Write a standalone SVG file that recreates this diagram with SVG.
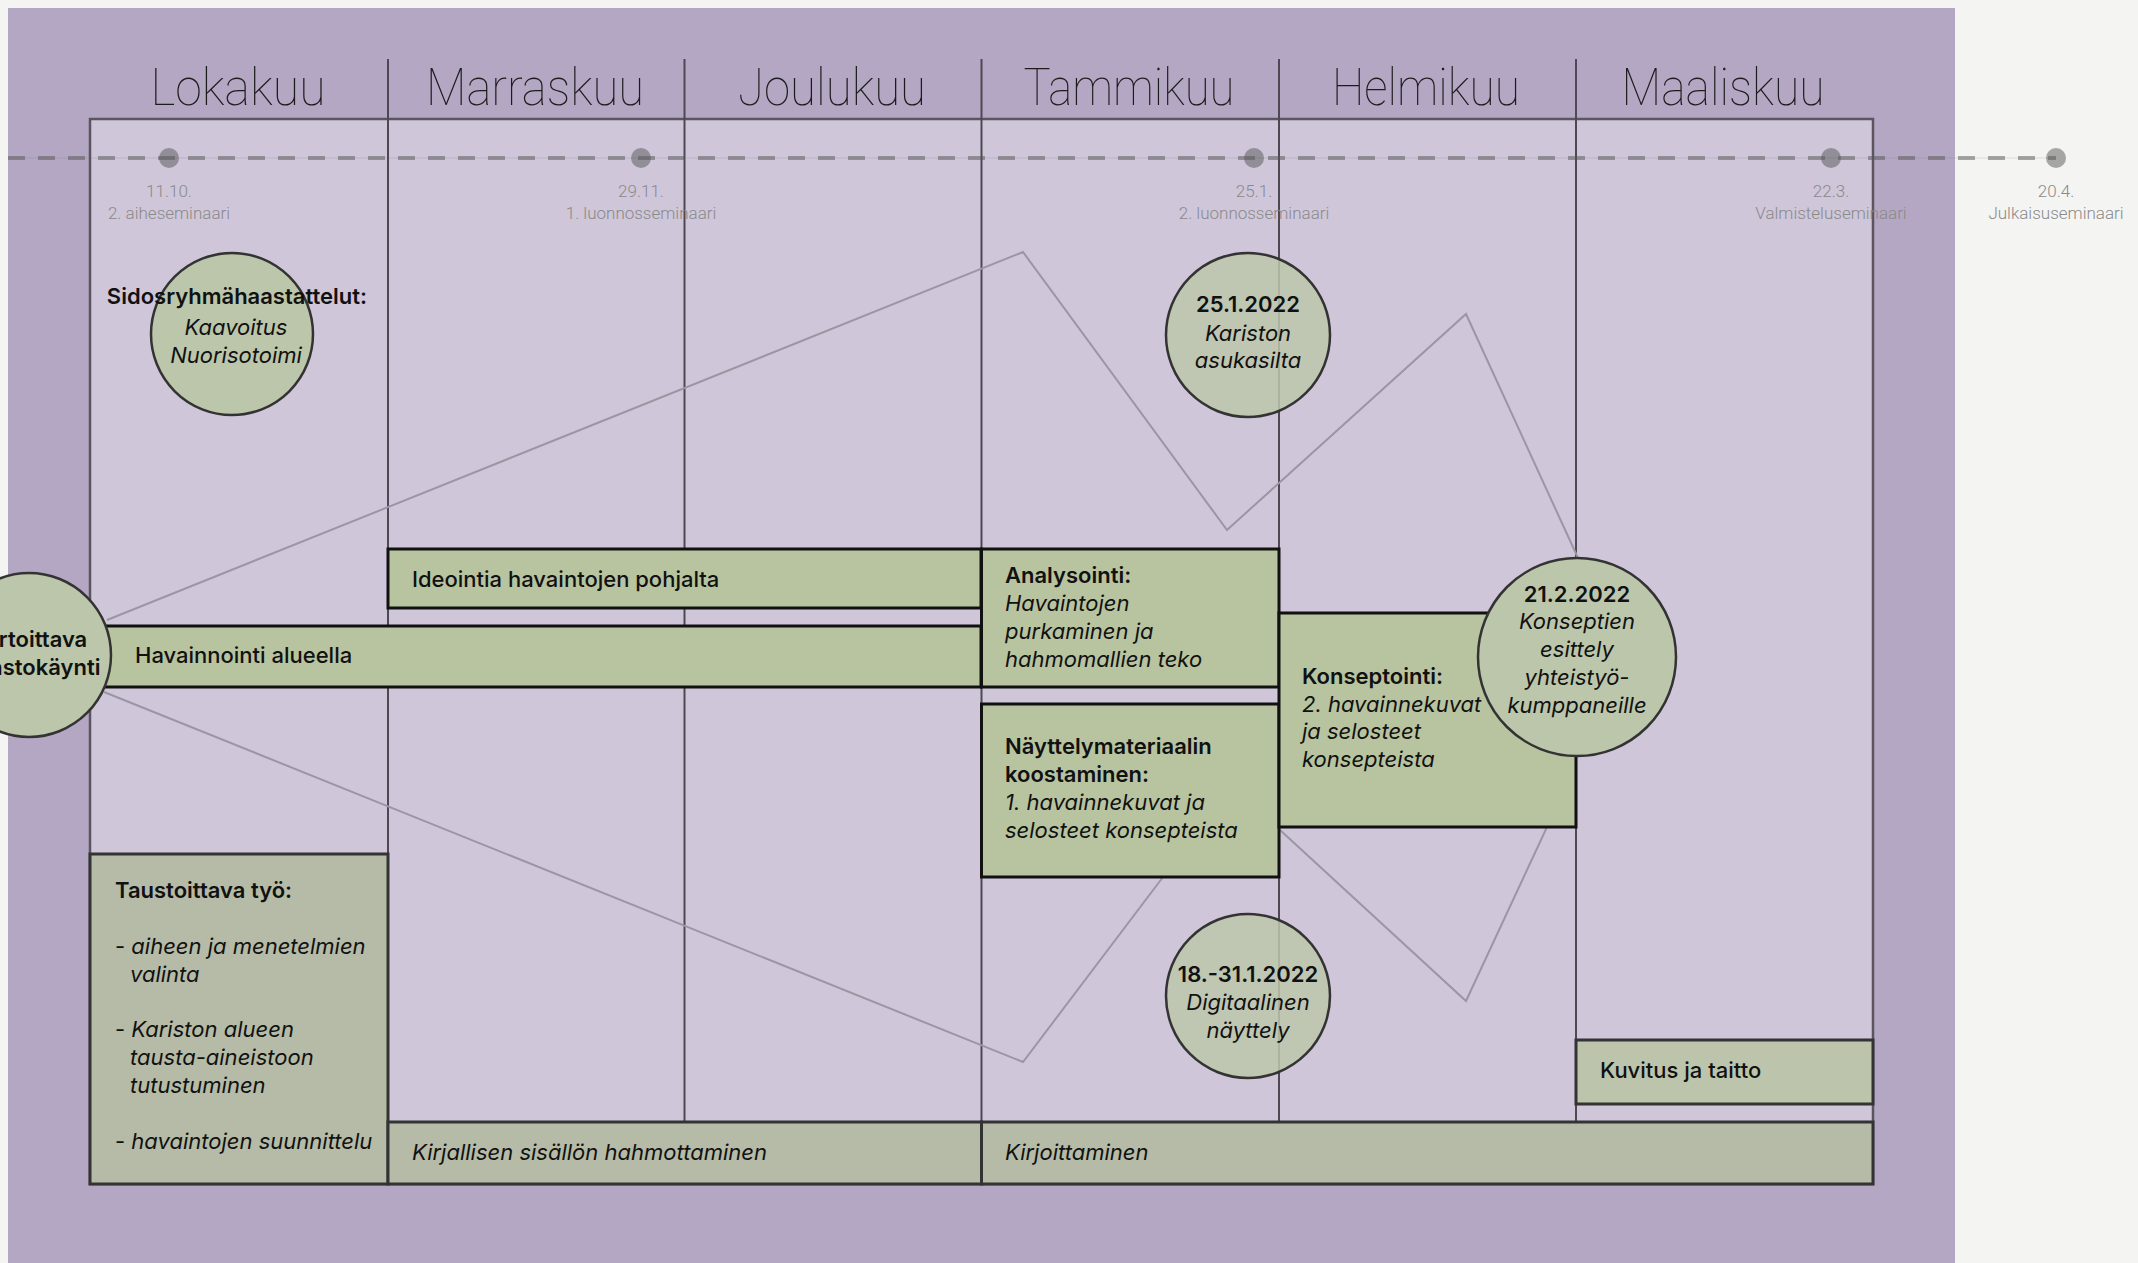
<svg xmlns="http://www.w3.org/2000/svg" width="2138" height="1263" viewBox="0 0 2138 1263">
<style>
.month{font-family:Roboto,"Liberation Sans",sans-serif;font-weight:100;font-size:52px;fill:#1c1c1c;text-anchor:middle}
.dl{font-family:Roboto,"Liberation Sans",sans-serif;font-weight:300;font-size:17px;fill:#8a8a8a;text-anchor:middle}
.t{font-family:Inter,"Noto Sans","Liberation Sans",sans-serif;font-size:22px;fill:#111}
.b{font-weight:600}
.m{font-weight:500}
.i{font-style:italic;font-weight:400}
.c{text-anchor:middle}
.div{stroke:#4d4852;stroke-width:2}
.box{fill:#b8c4a0;stroke:#111;stroke-width:3}
.gbox{fill:#b5bba6;stroke:#333;stroke-width:3}
.kbox{fill:#bcc5ab;stroke:#333;stroke-width:3}
.circ{fill:#bcc6aa;stroke:#333;stroke-width:2.5}
.circt{fill:#bcc6aa;fill-opacity:0.85;stroke:#333;stroke-width:2.5}
.con{fill:none;stroke:#9c96a3;stroke-width:2}
.dot{fill:#555;fill-opacity:0.5}
</style>
<rect x="0" y="0" width="2138" height="1263" fill="#f4f4f2"/>
<rect x="8" y="8" width="1947" height="1255" fill="#b4a7c4"/>
<rect id="panel" x="90" y="119" width="1783" height="1065" fill="#cfc6da" stroke="#5b5560" stroke-width="2.5"/>
<g id="dividers">
<line class="div" x1="388" y1="59" x2="388" y2="1122"/>
<line class="div" x1="684.5" y1="59" x2="684.5" y2="1122"/>
<line class="div" x1="981.5" y1="59" x2="981.5" y2="1122"/>
<line class="div" x1="1279" y1="59" x2="1279" y2="1122"/>
<line class="div" x1="1576" y1="59" x2="1576" y2="1122"/>
</g>
<g id="months">
<text class="month" x="238" y="105" textLength="175" lengthAdjust="spacingAndGlyphs">Lokakuu</text>
<text class="month" x="535" y="105" textLength="218" lengthAdjust="spacingAndGlyphs">Marraskuu</text>
<text class="month" x="832" y="105" textLength="188" lengthAdjust="spacingAndGlyphs">Joulukuu</text>
<text class="month" x="1129" y="105" textLength="211" lengthAdjust="spacingAndGlyphs">Tammikuu</text>
<text class="month" x="1426" y="105" textLength="188" lengthAdjust="spacingAndGlyphs">Helmikuu</text>
<text class="month" x="1723" y="105" textLength="203" lengthAdjust="spacingAndGlyphs">Maaliskuu</text>
</g>
<g id="timeline">
<line x1="8" y1="158" x2="2056" y2="158" stroke="#555" stroke-opacity="0.15" stroke-width="1"/>
<line x1="8" y1="158" x2="2056" y2="158" stroke="#555" stroke-opacity="0.5" stroke-width="4" stroke-dasharray="17 13"/>
<circle class="dot" cx="169" cy="158" r="10"/>
<circle class="dot" cx="641" cy="158" r="10"/>
<circle class="dot" cx="1254" cy="158" r="10"/>
<circle class="dot" cx="1831" cy="158" r="10"/>
<circle class="dot" cx="2056" cy="158" r="10"/>
<text class="dl" x="169" y="197">11.10.</text>
<text class="dl" x="169" y="219">2. aiheseminaari</text>
<text class="dl" x="641" y="197">29.11.</text>
<text class="dl" x="641" y="219">1. luonnosseminaari</text>
<text class="dl" x="1254" y="197">25.1.</text>
<text class="dl" x="1254" y="219">2. luonnosseminaari</text>
<text class="dl" x="1831" y="197">22.3.</text>
<text class="dl" x="1831" y="219">Valmisteluseminaari</text>
<text class="dl" x="2056" y="197">20.4.</text>
<text class="dl" x="2056" y="219">Julkaisuseminaari</text>
</g>
<g id="connectors">
<polyline class="con" points="107,620 1023,252 1227,530 1466,314 1578,558"/>
<polyline class="con" points="104,692 1023,1062 1163,877"/>
<polyline class="con" points="1280,830 1466,1001 1547,827"/>
</g>
<g id="ideointia">
<rect class="box" x="388" y="549" width="593" height="59"/>
<text class="t m" x="412" y="587">Ideointia havaintojen pohjalta</text>
</g>
<g id="havainnointi">
<rect class="box" x="90" y="626" width="891" height="61"/>
<text class="t m" x="135" y="663">Havainnointi alueella</text>
</g>
<g id="analysointi">
<rect class="box" x="981.5" y="549" width="297.5" height="138"/>
<text class="t b" x="1005" y="583">Analysointi:</text>
<text class="t i" x="1005" y="611">Havaintojen</text>
<text class="t i" x="1005" y="639">purkaminen ja</text>
<text class="t i" x="1005" y="667">hahmomallien teko</text>
</g>
<g id="nayttelymateriaali">
<rect class="box" x="981.5" y="704" width="297.5" height="173"/>
<text class="t b" x="1005" y="754">Näyttelymateriaalin</text>
<text class="t b" x="1005" y="782">koostaminen:</text>
<text class="t i" x="1005" y="810">1. havainnekuvat ja</text>
<text class="t i" x="1005" y="838">selosteet konsepteista</text>
</g>
<g id="konseptointi">
<rect class="box" x="1279" y="613" width="297" height="214"/>
<text class="t b" x="1302" y="684">Konseptointi:</text>
<text class="t i" x="1302" y="712">2. havainnekuvat</text>
<text class="t i" x="1302" y="739">ja selosteet</text>
<text class="t i" x="1302" y="767">konsepteista</text>
</g>
<g id="taustoittava">
<rect class="gbox" x="90" y="854" width="298" height="330"/>
<text class="t b" x="115" y="898">Taustoittava työ:</text>
<text class="t i" x="115" y="954"><tspan font-style="normal">- </tspan>aiheen ja menetelmien</text>
<text class="t i" x="130" y="982">valinta</text>
<text class="t i" x="115" y="1037"><tspan font-style="normal">- </tspan>Kariston alueen</text>
<text class="t i" x="130" y="1065">tausta-aineistoon</text>
<text class="t i" x="130" y="1093">tutustuminen</text>
<text class="t i" x="115" y="1149"><tspan font-style="normal">- </tspan>havaintojen suunnittelu</text>
</g>
<g id="kirjallisen">
<rect class="gbox" x="388" y="1122" width="593.5" height="62"/>
<text class="t i" x="412" y="1160">Kirjallisen sisällön hahmottaminen</text>
</g>
<g id="kirjoittaminen">
<rect class="gbox" x="981.5" y="1122" width="891.5" height="62"/>
<text class="t i" x="1005" y="1160">Kirjoittaminen</text>
</g>
<g id="kuvitus">
<rect class="kbox" x="1576" y="1040" width="297" height="64"/>
<text class="t m" x="1600" y="1078">Kuvitus ja taitto</text>
</g>
<g id="sidosryhma">
<circle class="circ" cx="232" cy="334" r="81"/>
<text class="t b c" x="237" y="304">Sidosryhmähaastattelut:</text>
<text class="t i c" x="236" y="335">Kaavoitus</text>
<text class="t i c" x="236" y="363">Nuorisotoimi</text>
</g>
<g id="kartoittava">
<circle class="circ" cx="29" cy="655" r="82"/>
<text class="t b c" x="29" y="647">Kartoittava</text>
<text class="t b c" x="29" y="675">maastokäynti</text>
</g>
<g id="asukasilta">
<circle class="circt" cx="1248" cy="335" r="82"/>
<text class="t b c" x="1248" y="312">25.1.2022</text>
<text class="t i c" x="1248" y="341">Kariston</text>
<text class="t i c" x="1248" y="368">asukasilta</text>
</g>
<g id="nayttely">
<circle class="circt" cx="1248" cy="996" r="82"/>
<text class="t b c" x="1248" y="982">18.-31.1.2022</text>
<text class="t i c" x="1248" y="1010">Digitaalinen</text>
<text class="t i c" x="1248" y="1038">näyttely</text>
</g>
<g id="konseptien-esittely">
<circle class="circ" cx="1577" cy="657" r="99"/>
<text class="t b c" x="1577" y="602">21.2.2022</text>
<text class="t i c" x="1577" y="629">Konseptien</text>
<text class="t i c" x="1577" y="657">esittely</text>
<text class="t i c" x="1577" y="685">yhteistyö-</text>
<text class="t i c" x="1577" y="713">kumppaneille</text>
</g>
</svg>
